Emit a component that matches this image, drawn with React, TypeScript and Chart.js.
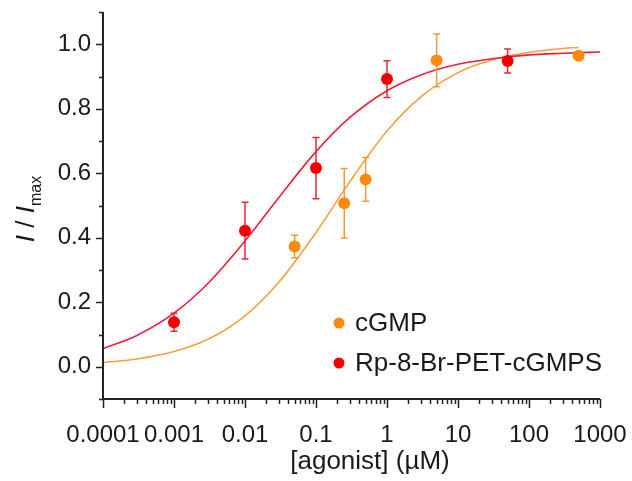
import React, { useEffect, useRef } from 'react';
import { Chart, registerables } from 'chart.js';

Chart.register(...registerables);

// ---- data ----
const cgmpConc = [0.05, 0.25, 0.5, 5, 500];
const cgmpResp = [0.373, 0.507, 0.581, 0.95, 0.964];
const cgmpErr = [0.035, 0.108, 0.068, 0.082, 0.01];

const rpConc = [0.001, 0.01, 0.1, 1, 50];
const rpResp = [0.138, 0.422, 0.616, 0.892, 0.948];
const rpErr = [0.028, 0.088, 0.095, 0.057, 0.037];

// fitted curves
const fitConcRp = [1e-4, 3e-4, 1e-3, 3e-3, 1e-2, 3e-2, 0.1, 0.3, 1, 3, 10, 30, 100, 300, 1000];
const fitRespRp = [0.056, 0.097, 0.166, 0.258, 0.39, 0.525, 0.667, 0.773, 0.856, 0.905, 0.938, 0.955, 0.967, 0.972, 0.976];
const fitConcCgmp = [1e-4, 3e-4, 1e-3, 3e-3, 1e-2, 3e-2, 0.1, 0.3, 1, 3, 10, 30, 100, 300, 500];
const fitRespCgmp = [0.013, 0.024, 0.047, 0.085, 0.158, 0.262, 0.416, 0.574, 0.731, 0.837, 0.912, 0.951, 0.975, 0.987, 0.99];

const xTickValues = [0.0001, 0.001, 0.01, 0.1, 1, 10, 100, 1000];
const xTickLabels = ['0.0001', '0.001', '0.01', '0.1', '1', '10', '100', '1000'];
const yTickValues = [0, 0.2, 0.4, 0.6, 0.8, 1.0];
const yTickLabels = ['0.0', '0.2', '0.4', '0.6', '0.8', '1.0'];

const seriesNames = ['cGMP', 'Rp-8-Br-PET-cGMPS'];

const FONT = '"Liberation Sans", Arial, Helvetica, sans-serif';
const ORANGE_PT = '#ff8a0a';
const ORANGE_LN = '#f5a03c';
const RED_PT = '#f00000';
const RED_LN = '#e82038';
const AXIS = '#222222';

const overlay = {
  id: 'overlay',
  beforeDatasetDraw(chart: any, args: any) {
    if (args.index !== 1) return;
    const ctx = chart.ctx;
    const xs = chart.scales.x;
    const ys = chart.scales.y;
    const bars = [
      { c: cgmpConc, r: cgmpResp, e: cgmpErr, col: '#f39a38' },
      { c: rpConc, r: rpResp, e: rpErr, col: '#e42838' },
    ];
    ctx.save();
    ctx.lineWidth = 1.5;
    for (const b of bars) {
      ctx.strokeStyle = b.col;
      for (let i = 0; i < b.c.length; i++) {
        const px = xs.getPixelForValue(b.c[i]);
        const y1 = ys.getPixelForValue(b.r[i] + b.e[i]);
        const y2 = ys.getPixelForValue(b.r[i] - b.e[i]);
        ctx.beginPath();
        ctx.moveTo(px, y1);
        ctx.lineTo(px, y2);
        ctx.moveTo(px - 3.5, y1);
        ctx.lineTo(px + 3.5, y1);
        ctx.moveTo(px - 3.5, y2);
        ctx.lineTo(px + 3.5, y2);
        ctx.stroke();
      }
    }
    ctx.restore();
  },
  afterDraw(chart: any) {
    const ctx = chart.ctx;
    const xs = chart.scales.x;
    const ys = chart.scales.y;
    const { left, right, top, bottom } = chart.chartArea;
    ctx.save();
    // axes
    ctx.strokeStyle = AXIS;
    ctx.lineWidth = 2;
    ctx.beginPath();
    ctx.moveTo(left, top);
    ctx.lineTo(left, bottom + 1);
    ctx.moveTo(left - 1, bottom);
    ctx.lineTo(right, bottom);
    ctx.stroke();
    // y ticks
    ctx.lineWidth = 1.5;
    ctx.beginPath();
    for (let k = -1; k <= 11; k++) {
      const v = k / 10;
      const py = Math.round(ys.getPixelForValue(v)) + 0.5;
      const len = k % 2 === 0 ? 7 : 4;
      ctx.moveTo(left, py);
      ctx.lineTo(left - len, py);
    }
    // x ticks
    for (let d = 0; d < xTickValues.length; d++) {
      const dec = xTickValues[d];
      const px = Math.round(xs.getPixelForValue(dec)) + 0.5;
      ctx.moveTo(px, bottom);
      ctx.lineTo(px, bottom + 9);
      if (d < xTickValues.length - 1) {
        for (let m = 2; m <= 9; m++) {
          const mx = Math.round(xs.getPixelForValue(m * dec)) + 0.5;
          ctx.moveTo(mx, bottom);
          ctx.lineTo(mx, bottom + 5);
        }
      }
    }
    ctx.stroke();

    // legend
    const legendItems = [
      { name: seriesNames[0], col: ORANGE_PT, y: 323 },
      { name: seriesNames[1], col: RED_PT, y: 363 },
    ];
    ctx.font = `26px ${FONT}`;
    ctx.textBaseline = 'middle';
    ctx.textAlign = 'left';
    for (const it of legendItems) {
      ctx.fillStyle = it.col;
      ctx.beginPath();
      ctx.arc(339, it.y, 5.5, 0, Math.PI * 2);
      ctx.fill();
      ctx.fillStyle = '#1a1a1a';
      ctx.fillText(it.name, 355, it.y + 1);
    }

    // x title
    ctx.font = `26px ${FONT}`;
    ctx.textAlign = 'center';
    ctx.textBaseline = 'alphabetic';
    ctx.fillText('[agonist] (\u00b5M)', 370, 469);

    // y title: I / I_max
    const big = `italic 26px ${FONT}`;
    const reg = `26px ${FONT}`;
    const sub = `16px ${FONT}`;
    const parts = [
      { t: 'I', f: big, dy: 0 },
      { t: ' / ', f: reg, dy: 0 },
      { t: 'I', f: big, dy: 0 },
      { t: 'max', f: sub, dy: 7 },
    ];
    let total = 0;
    for (const p of parts) {
      ctx.font = p.f;
      total += ctx.measureText(p.t).width;
    }
    ctx.translate(34, 209 + total / 2);
    ctx.rotate(-Math.PI / 2);
    ctx.textAlign = 'left';
    let xo = 0;
    for (const p of parts) {
      ctx.font = p.f;
      ctx.fillText(p.t, xo, p.dy);
      xo += ctx.measureText(p.t).width;
    }
    ctx.restore();
  },
};

export default function App() {
  const ref = useRef<HTMLCanvasElement | null>(null);
  useEffect(() => {
    if (!ref.current) return;
    const chart = new Chart(ref.current, {
      type: 'scatter',
      data: {
        datasets: [
          {
            label: seriesNames[1],
            data: rpConc.map((c, i) => ({ x: c, y: rpResp[i] })),
            backgroundColor: RED_PT,
            borderColor: RED_PT,
            pointRadius: 6,
            borderWidth: 0,
          },
          {
            label: seriesNames[0],
            data: cgmpConc.map((c, i) => ({ x: c, y: cgmpResp[i] })),
            backgroundColor: ORANGE_PT,
            borderColor: ORANGE_PT,
            pointRadius: 6,
            borderWidth: 0,
          },
          {
            label: 'fit Rp',
            data: fitConcRp.map((c, i) => ({ x: c, y: fitRespRp[i] })),
            showLine: true,
            borderColor: RED_LN,
            borderWidth: 1.6,
            pointRadius: 0,
            cubicInterpolationMode: 'monotone',
          } as any,
          {
            label: 'fit cGMP',
            data: fitConcCgmp.map((c, i) => ({ x: c, y: fitRespCgmp[i] })),
            showLine: true,
            borderColor: ORANGE_LN,
            borderWidth: 1.6,
            pointRadius: 0,
            cubicInterpolationMode: 'monotone',
          } as any,
        ],
      },
      options: {
        responsive: false,
        animation: false,
        devicePixelRatio: 1,
        layout: { padding: { top: 12, right: 32, left: 0, bottom: 0 } },
        plugins: { legend: { display: false }, tooltip: { enabled: false } },
        scales: {
          x: {
            type: 'logarithmic',
            min: 0.0001,
            max: 1000,
            grid: { display: false, drawTicks: false },
            border: { display: false },
            afterBuildTicks: (s: any) => {
              s.ticks = xTickValues.map((v) => ({ value: v }));
            },
            afterFit: (s: any) => {
              s.height = 82;
              s.paddingLeft = 0;
              s.paddingRight = 0;
              s.paddingTop = 0;
              s.paddingBottom = 0;
            },
            ticks: {
              autoSkip: false,
              maxRotation: 0,
              padding: 22,
              color: '#1a1a1a',
              font: { family: FONT, size: 24 },
              callback: (_v: any, i: number) => xTickLabels[i],
            },
          },
          y: {
            type: 'linear',
            min: -0.1,
            max: 1.1,
            grid: { display: false, drawTicks: false },
            border: { display: false },
            afterBuildTicks: (s: any) => {
              s.ticks = yTickValues.map((v) => ({ value: v }));
            },
            afterFit: (s: any) => {
              s.width = 103;
              s.paddingLeft = 0;
              s.paddingRight = 0;
              s.paddingTop = 0;
              s.paddingBottom = 0;
            },
            ticks: {
              autoSkip: false,
              padding: 12,
              color: '#1a1a1a',
              font: { family: FONT, size: 24 },
              callback: (_v: any, i: number) => yTickLabels[i],
            },
          },
        },
      },
      plugins: [overlay],
    } as any);
    return () => chart.destroy();
  }, []);
  return (
    <div style={{ position: 'absolute', left: 0, top: 0, width: 632, height: 481, background: '#fff' }}>
      <canvas ref={ref} width={632} height={481} />
    </div>
  );
}
